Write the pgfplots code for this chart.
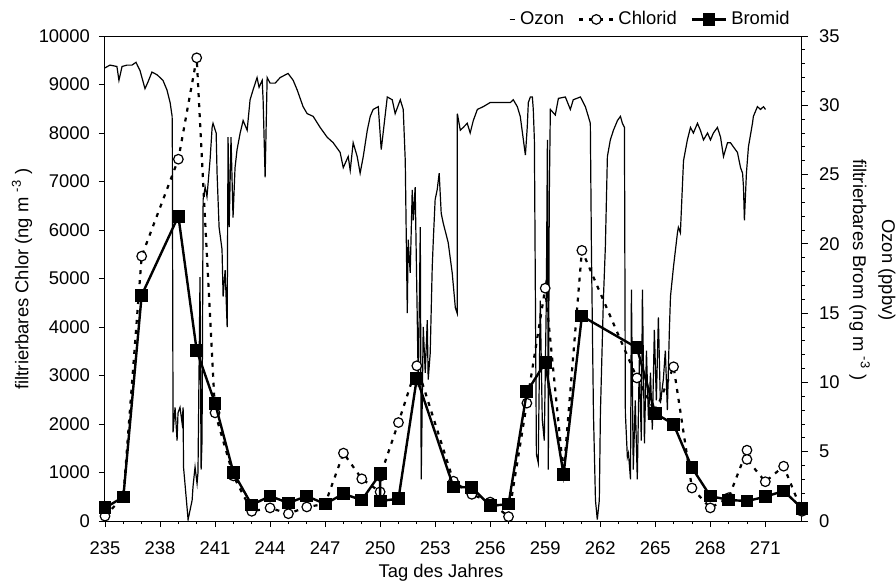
\documentclass[border=0pt]{standalone}
\usepackage{fontspec}
\setmainfont{Liberation Sans}
\usepackage{pgfplots}
\pgfplotsset{compat=1.18}

% 1 px of the reference = 0.5pt
\pgfplotsset{
  base/.style={
    at={(0,0)}, anchor=south west, scale only axis,
    width=348.5pt, height=242.5pt,
    xmin=235, xmax=273,
    scaled ticks=false,
    tick align=outside, major tick length=3pt, minor tick length=1.5pt,
    tick style={black, line width=0.4pt},
    axis line style={line width=0.5pt},
    /pgf/number format/assume math mode=true,
    /pgf/number format/1000 sep={},
  },
  chlorid/.style={black, line width=1.1pt, dash pattern=on 2pt off 3pt,
    mark=*, mark size=2.4pt, mark options={solid, fill=white, line width=0.6pt}},
  bromid/.style={black, line width=1.2pt, mark=square*, mark size=2.6pt,
    mark options={solid, fill=black}},
  ozonleg/.style={legend image code/.code={\draw[##1] (0.5cm,0cm) -- (0.6cm,0cm);}},
}

\begin{document}
\begin{tikzpicture}[font=\fontsize{9.2}{11}\selectfont]

% Ozon (rechte Skala)
\begin{axis}[base,
  ymin=0, ymax=35,
  axis x line=none, axis y line*=right,
  ytick={0,5,...,35}, minor y tick num=4,
  yticklabel style={xshift=2pt},
]
\addplot[black, line width=0.6pt] coordinates {
(235.00,32.7) (235.27,32.9) (235.65,32.8) (235.76,31.8) (235.93,32.8) (236.20,32.9)
(236.47,32.9) (236.69,33.1) (236.91,32.5) (237.18,31.2) (237.35,31.7) (237.56,32.4)
(237.84,32.2) (238.16,31.8) (238.38,31.1) (238.55,30.2) (238.66,29.2) (238.67,28.0)
(238.71,6.4) (238.82,8.2) (238.93,5.8) (238.98,7.8) (239.09,8.2) (239.20,7.1)
(239.26,8.2) (239.28,3.9) (239.36,2.7) (239.53,0.1) (239.64,0.8) (239.75,1.5)
(239.80,2.5) (239.91,3.9) (240.02,2.7) (240.07,3.5) (240.18,17.6) (240.24,3.7)
(240.29,5.8) (240.35,23.2) (240.46,24.1) (240.56,23.4) (240.73,26.1) (240.84,28.4)
(240.89,28.7) (241.06,28.0) (241.11,25.1) (241.22,21.2) (241.38,19.6) (241.44,16.2)
(241.55,18.1) (241.66,14.0) (241.71,27.7) (241.77,21.2) (241.87,27.7) (241.98,21.9)
(242.09,25.5) (242.20,26.8) (242.37,28.0) (242.53,28.9) (242.75,28.2) (242.91,30.4)
(243.07,31.1) (243.29,32.0) (243.40,31.3) (243.57,31.8) (243.62,30.4) (243.73,24.8)
(243.84,32.0) (244.00,31.6) (244.28,31.6) (244.55,32.0) (244.98,32.3) (245.26,31.8)
(245.48,31.1) (245.80,29.9) (246.02,29.4) (246.35,29.2) (246.73,28.4) (247.11,27.7)
(247.44,27.3) (247.82,26.6) (247.99,25.5) (248.26,26.3) (248.37,25.3) (248.53,27.3)
(248.75,26.3) (248.91,25.1) (249.08,26.3) (249.30,28.2) (249.46,29.2) (249.62,29.7)
(249.90,29.9) (250.06,26.8) (250.39,30.6) (250.66,30.4) (250.82,29.4) (251.10,30.4)
(251.26,29.7) (251.37,26.0) (251.48,15.0) (251.53,20.3) (251.64,17.9) (251.75,23.9)
(251.81,21.7) (251.91,24.1) (252.02,15.0) (252.08,9.7) (252.19,21.2) (252.24,3.0)
(252.35,14.0) (252.46,10.7) (252.57,14.5) (252.62,10.2) (252.73,12.1) (252.84,18.3)
(252.90,20.3) (253.00,23.2) (253.11,23.9) (253.22,25.1) (253.33,22.2) (253.44,21.5)
(253.71,20.1) (253.93,17.9) (254.10,15.4) (254.20,15.0) (254.21,29.4) (254.37,28.2)
(254.53,28.4) (254.75,28.7) (254.91,28.0) (255.08,28.9) (255.30,29.7) (255.62,29.9)
(256.00,30.2) (256.39,30.2) (256.72,30.2) (257.10,30.2) (257.26,30.4) (257.48,29.9)
(257.64,29.2) (257.81,27.5) (257.92,26.4) (258.02,28.4) (258.08,30.2) (258.19,30.6)
(258.30,30.6) (258.35,29.7) (258.41,27.5) (258.52,4.8) (258.62,4.2) (258.73,15.9)
(258.84,7.3) (258.95,5.8) (259.06,15.9) (259.12,27.5) (259.17,3.7) (259.22,23.2)
(259.28,29.7) (259.55,29.3) (259.72,30.5) (260.10,30.6) (260.37,29.7) (260.53,30.4)
(260.92,30.6) (261.19,29.9) (261.35,29.2) (261.46,28.7) (261.52,19.6) (261.63,7.8)
(261.74,1.5) (261.84,0.1) (261.95,1.5) (262.01,7.8) (262.17,15.9) (262.28,19.8)
(262.39,26.3) (262.55,27.5) (262.72,28.2) (262.94,28.9) (263.10,29.2) (263.21,28.7)
(263.32,28.4) (263.37,7.8) (263.48,4.6) (263.54,4.9) (263.65,3.0) (263.70,16.7)
(263.80,3.7) (263.91,8.7) (264.02,3.0) (264.13,11.6) (264.24,5.8) (264.30,16.7)
(264.41,5.6) (264.52,12.3) (264.63,7.3) (264.74,10.7) (264.84,6.6) (264.95,13.8)
(265.06,8.7) (265.17,14.7) (265.28,8.5) (265.44,10.2) (265.55,12.3) (265.66,8.0)
(265.77,13.8) (265.83,16.2) (265.99,18.3) (266.21,20.8) (266.26,21.2) (266.37,20.8)
(266.54,26.0) (266.75,27.5) (266.92,28.4) (267.08,28.0) (267.30,28.7) (267.46,28.2)
(267.63,27.5) (267.85,28.0) (268.01,27.5) (268.17,28.0) (268.39,28.4) (268.56,27.7)
(268.72,26.3) (268.94,27.3) (269.10,27.3) (269.26,27.0) (269.37,26.8) (269.48,26.6)
(269.65,25.5) (269.76,25.1) (269.81,24.1) (269.86,21.7) (269.97,25.1) (270.08,27.0)
(270.30,28.7) (270.35,29.2) (270.57,29.9) (270.74,29.7) (270.90,29.9) (271.01,29.7)
};
\end{axis}

% Chlorid (linke Skala)
\begin{axis}[base,
  ymin=0, ymax=10000,
  xtick={235,238,...,271}, minor x tick num=2,
  ytick={0,1000,...,10000},
  xtick pos=bottom, ytick pos=left,
  xticklabel style={yshift=-4pt},
  yticklabel style={xshift=-1pt},
]
\addplot[chlorid] coordinates {
(235,100) (236,500) (237,5460) (239,7460) (240,9550) (241,2230) (242,930)
(243,200) (244,270) (245,150) (246,290) (247,350) (248,1400) (249,870)
(250,600) (250,920) (251,2030) (252,3200) (254,820) (255,550) (256,390)
(257,90) (258,2430) (259,4800) (260,970) (261,5580) (264,2950) (265,2250)
(266,3180) (267,680) (268,270) (269,480) (270,1460) (270,1270) (271,810)
(272,1130) (273,200)
};
\end{axis}

% Bromid (rechte Skala)
\begin{axis}[base,
  ymin=0, ymax=35, hide axis,
  legend style={at={(1,1)}, anchor=south east, xshift=-4pt, yshift=2pt,
    draw=none, fill=none, inner sep=0pt, legend columns=-1,
    font=\fontsize{9.2}{11}\selectfont,
    /tikz/every even column/.append style={column sep=5pt}},
  legend cell align=left,
]
\addlegendimage{black, line width=0.8pt, ozonleg}
\addlegendentry{Ozon}
\addlegendimage{chlorid}
\addlegendentry{Chlorid}
\addplot[bromid] coordinates {
(235,0.95) (236,1.73) (237,16.3) (239,22.0) (240,12.3) (241,8.5) (242,3.5)
(243,1.16) (244,1.80) (245,1.30) (246,1.80) (247,1.23) (248,1.96) (249,1.51)
(250,3.40) (250,1.44) (251,1.61) (252,10.3) (254,2.45) (255,2.43) (256,1.09)
(257,1.22) (258,9.33) (259,11.42) (260,3.37) (261,14.79) (264,12.5) (265,7.77)
(266,6.98) (267,3.85) (268,1.80) (269,1.52) (270,1.44) (271,1.75) (272,2.17)
(273,0.92)
};
\addlegendentry{Bromid}
\end{axis}

\node[rotate=90] at (-41.5pt,121pt) {filtrierbares Chlor (ng m \textsuperscript{-3} )};
\node at (168pt,-26pt) {Tag des Jahres};
\node[rotate=-90, align=center, font=\fontsize{9.2}{14.5}\selectfont]
  at (383.75pt,125.5pt) {Ozon (ppbv)\\filtrierbares Brom (ng m \textsuperscript{-3} )};

\pgfresetboundingbox
\path[use as bounding box] (-52.5pt,-32pt) rectangle (395.5pt,260.5pt);
\end{tikzpicture}
\end{document}
